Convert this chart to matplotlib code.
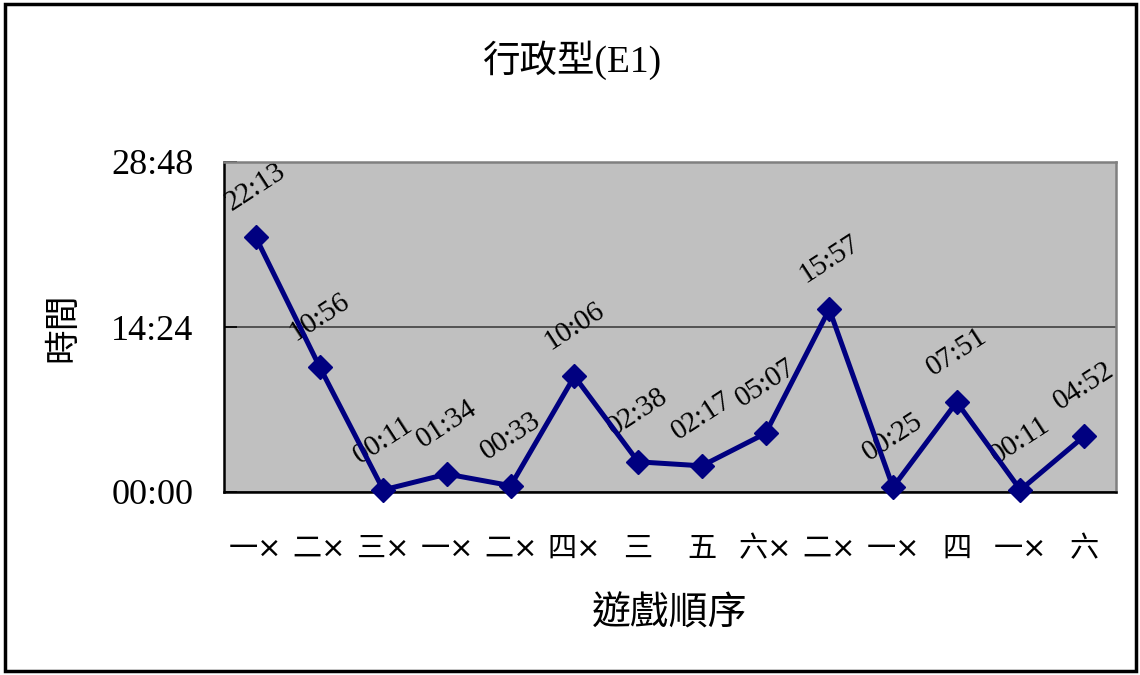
import matplotlib.pyplot as plt
import matplotlib.patches as mpatches
from matplotlib.ticker import FuncFormatter, FixedLocator

plt.rcParams['font.family'] = ['Liberation Serif', 'Noto Sans CJK TC', 'DejaVu Sans']

# play order labels and time spent per game (mm:ss)
games = ['一×', '二×', '三×', '一×', '二×', '四×', '三', '五', '六×', '二×', '一×', '四', '一×', '六']
times = ['22:13', '10:56', '00:11', '01:34', '00:33', '10:06', '02:38', '02:17', '05:07',
         '15:57', '00:25', '07:51', '00:11', '04:52']
y_ticks = ['00:00', '14:24', '28:48']


def to_sec(s):
    m, sec = s.split(':')
    return int(m) * 60 + int(sec)


def fmt(v, pos=None):
    v = int(round(v))
    return '%02d:%02d' % (v // 60, v % 60)


secs = [to_sec(t) for t in times]
tick_secs = [to_sec(t) for t in y_ticks]
xs = [i + 0.5 for i in range(len(games))]

fig = plt.figure(figsize=(11.4, 6.75), dpi=100)
ax = fig.add_axes([224 / 1140, 1 - 492 / 675, 892 / 1140, 330 / 675])
ax.set_facecolor('#c0c0c0')

ax.set_xlim(0, len(games))
ax.set_ylim(tick_secs[0], tick_secs[-1])
ax.yaxis.set_major_locator(FixedLocator(tick_secs))
ax.yaxis.set_major_formatter(FuncFormatter(fmt))
ax.grid(axis='y', color='#404040', linewidth=1.2)
ax.set_axisbelow(True)

ax.plot(xs, secs, color='#000080', linewidth=3.6, marker='D', markersize=12.5,
        zorder=3, clip_on=False)

for x, y, t in zip(xs, secs, times):
    ax.annotate(t, (x, y), xytext=(0, 36), textcoords='offset points',
                ha='center', va='center', rotation=33, fontsize=21, zorder=2)

ax.set_xticks(xs)
ax.set_xticklabels(games, fontsize=21, family=['DejaVu Sans', 'Noto Sans CJK TC'])
ax.tick_params(axis='x', length=0, pad=31)
ax.tick_params(axis='y', direction='in', length=9, width=1.2, labelsize=26, pad=22)

for side in ['left', 'bottom']:
    ax.spines[side].set_color('black')
    ax.spines[side].set_linewidth(1.8)
for side in ['top', 'right']:
    ax.spines[side].set_color('#808080')
    ax.spines[side].set_linewidth(1.8)

ax.set_xlabel('遊戲順序', fontsize=28)
ax.xaxis.set_label_coords(0.5, -0.318)
ax.set_ylabel('時間', fontsize=25)
ax.yaxis.set_label_coords(-0.161, 0.5)
fig.text(572 / 1140, 1 - 60 / 675, '行政型(E1)', ha='center', va='center', fontsize=27)

# outer frame around the whole chart
fig.patches.append(mpatches.Rectangle((5 / 1140, 4 / 675), 1131 / 1140, 667 / 675,
                                      transform=fig.transFigure, fill=False,
                                      edgecolor='black', linewidth=2.5))

fig.savefig('out.png', dpi=100)
